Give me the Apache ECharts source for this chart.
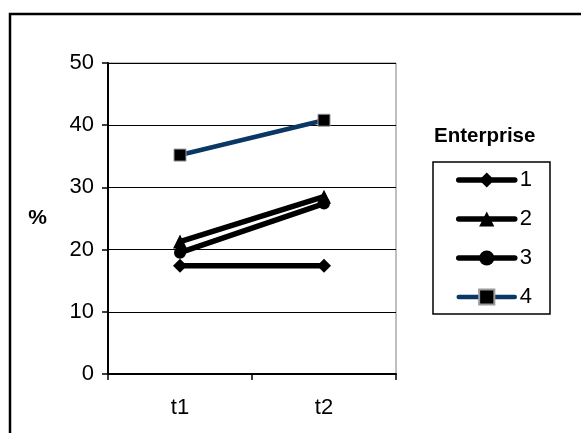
<!DOCTYPE html>
<html>
<head>
<meta charset="utf-8">
<script src="https://cdn.jsdelivr.net/npm/echarts@6/dist/echarts.min.js"></script>
<style>
  html, body { margin: 0; padding: 0; background: #fff; }
  #chart { width: 581px; height: 433px; }
</style>
</head>
<body>
<div id="chart"></div>
<script>
// Periods on the x axis
const periods = ['t1', 't2'];

// Share (%) per enterprise at each period
const enterprise1 = [17.4, 17.4];
const enterprise2 = [21.3, 28.5];
const enterprise3 = [19.5, 27.4];
const enterprise4 = [35.2, 40.8];

const seriesNames = ['1', '2', '3', '4'];
const yTicks = { min: 0, max: 50, step: 10 };

const FONT = '"Liberation Sans", Arial, sans-serif';

const chart = echarts.init(document.getElementById('chart'), null, { renderer: 'canvas' });

function lineSeries(name, data, color, width, symbol, size, extraItem) {
  return {
    name: name,
    type: 'line',
    data: data,
    symbol: symbol,
    symbolSize: size,
    showAllSymbol: true,
    lineStyle: { color: color, width: width, cap: 'round' },
    itemStyle: Object.assign({ color: '#000', borderWidth: 0 }, extraItem || {}),
    emphasis: { disabled: true },
    animation: false
  };
}

chart.setOption({
  animation: false,
  backgroundColor: '#fff',
  textStyle: { fontFamily: FONT },
  graphic: [
    {
      type: 'rect',
      shape: { x: 10, y: 14, width: 620, height: 480 },
      style: { fill: 'none', stroke: '#000', lineWidth: 2.5 },
      silent: true
    },
    {
      type: 'text',
      left: 434,
      top: 126,
      style: { text: 'Enterprise', font: 'bold 20.5px ' + FONT, fill: '#000' },
      silent: true
    }
  ],
  grid: {
    left: 108, right: 185, top: 63, bottom: 59,
    show: true, borderColor: '#808080', borderWidth: 1,
    backgroundColor: 'transparent'
  },
  legend: {
    orient: 'vertical',
    left: 433,
    top: 162,
    padding: [7, 18, 6, 23],
    borderColor: '#000',
    borderWidth: 1.5,
    itemWidth: 56,
    itemHeight: 19,
    itemGap: 17,
    data: seriesNames,
    lineStyle: { width: 'inherit' },
    textStyle: { fontSize: 22, color: '#000', fontFamily: FONT, padding: [0, 0, 0, 0] },
    selectedMode: false
  },
  xAxis: {
    type: 'category',
    data: periods,
    boundaryGap: true,
    axisLine: { lineStyle: { color: '#000', width: 2 } },
    axisTick: { show: true, length: 6, inside: false, lineStyle: { color: '#000', width: 1.5 } },
    axisLabel: { fontSize: 22, color: '#000', margin: 23, fontFamily: FONT },
    splitLine: { show: false }
  },
  yAxis: {
    type: 'value',
    min: yTicks.min,
    max: yTicks.max,
    interval: yTicks.step,
    name: '%',
    nameLocation: 'middle',
    nameRotate: 0,
    nameGap: 61,
    nameTextStyle: { fontSize: 21, fontWeight: 'bold', color: '#000', fontFamily: FONT },
    axisLine: { show: true, lineStyle: { color: '#000', width: 2 } },
    axisTick: { show: true, length: 6, inside: false, lineStyle: { color: '#000', width: 1.5 } },
    axisLabel: { fontSize: 22, color: '#000', margin: 14, fontFamily: FONT },
    splitLine: { show: true, lineStyle: { color: '#000', width: 1 } }
  },
  series: [
    lineSeries(seriesNames[0], enterprise1, '#000', 5.5, 'diamond', 14),
    lineSeries(seriesNames[1], enterprise2, '#000', 5.5, 'triangle', 14),
    lineSeries(seriesNames[2], enterprise3, '#000', 5.5, 'circle', 12),
    lineSeries(seriesNames[3], enterprise4, '#0a3763', 4.5, 'rect', 12,
      { color: '#000', borderColor: '#9a9a9a', borderWidth: 1 })
  ]
});
</script>
</body>
</html>
